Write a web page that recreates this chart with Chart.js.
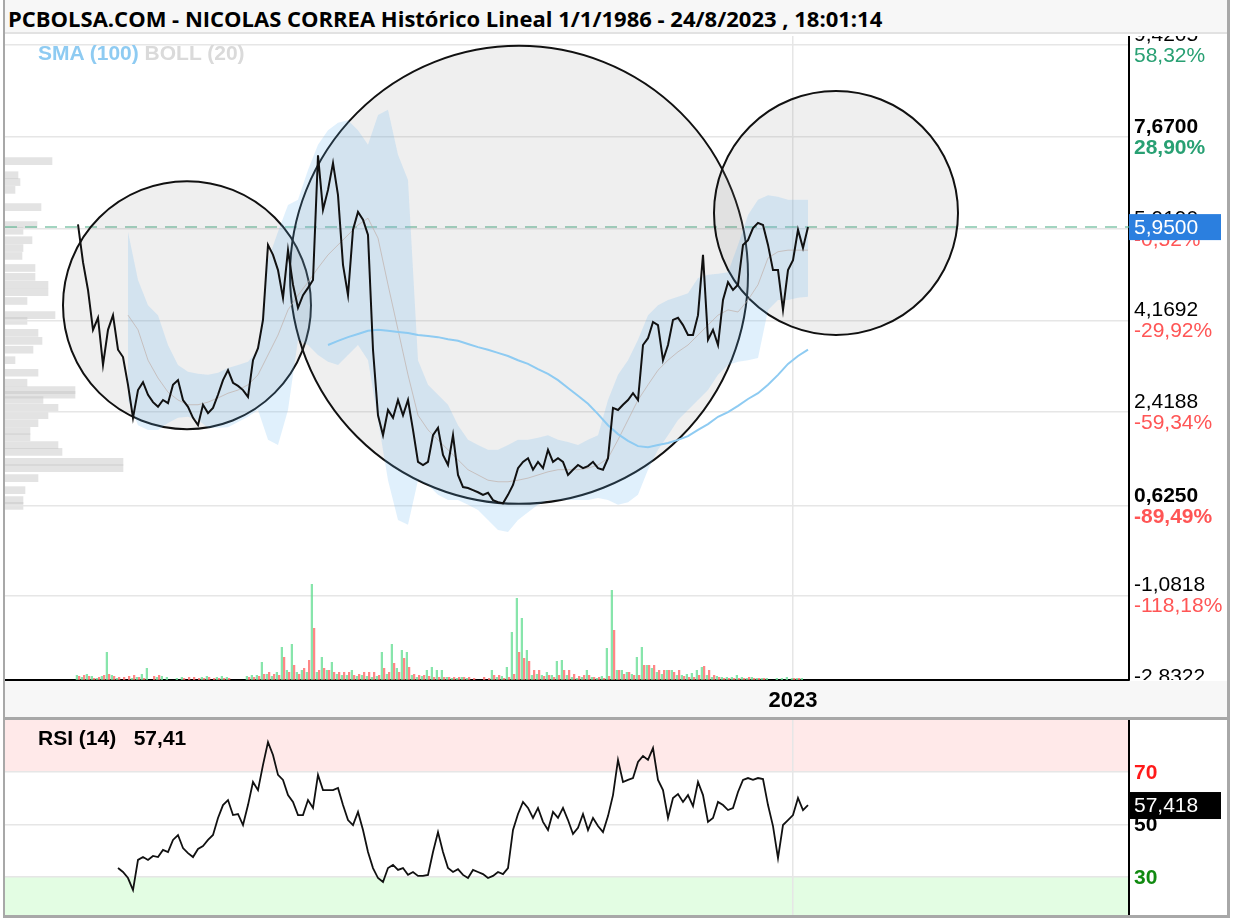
<!DOCTYPE html>
<html>
<head>
<meta charset="utf-8">
<script src="https://cdn.jsdelivr.net/npm/chart.js@4.4.0/dist/chart.umd.min.js"></script>
<style>
  body { margin: 0; background: #fff; font-family: "Liberation Sans", Arial, sans-serif; }
  .abs { position: absolute; }
  #title { left: 5px; top: 0; width: 1222px; height: 34px; background: #f7f7f7; border-bottom: 2px solid #e2e2e2;
           font: bold 22px "Open Sans", sans-serif; line-height: 36px; padding-left: 3px; box-sizing: border-box; color: #000; }
  #strip { left: 5px; top: 681px; width: 1222px; height: 36px; background: #f7f7f7; }
  #sep { left: 5px; top: 717px; width: 1222px; height: 3px; background: #a8a8a8; }
  #bl { left: 3px; top: 0; width: 2px; height: 918px; background: #a8a8a8; }
  #br { left: 1227px; top: 0; width: 3px; height: 918px; background: #a8a8a8; }
  #bb { left: 3px; top: 915px; width: 1227px; height: 3px; background: #a8a8a8; }
  #legend { left: 38px; top: 41px; font: bold 21px "Liberation Sans", Arial, sans-serif; }
  #rsiLabel { left: 38px; top: 726px; font: bold 21px "Liberation Sans", Arial, sans-serif; color: #000; white-space: pre; }
  canvas { position: absolute; }
</style>
</head>
<body>
<div id="strip" class="abs"></div>
<canvas id="profile" width="1124" height="644" style="left:5px;top:36px"></canvas>
<canvas id="main" width="1222" height="681" style="left:5px;top:36px"></canvas>
<canvas id="rsi" width="1222" height="195" style="left:5px;top:720px"></canvas>
<div id="title" class="abs"></div>
<div id="legend" class="abs"><span style="color:#8ecbf2">SMA (100)</span> <span style="color:#dadada">BOLL (20)</span></div>
<div id="rsiLabel" class="abs"></div>
<div id="sep" class="abs"></div>
<div id="bl" class="abs"></div>
<div id="br" class="abs"></div>
<div id="bb" class="abs"></div>
<script>
const titleText = 'PCBOLSA.COM - NICOLAS CORREA Histórico Lineal 1/1/1986 - 24/8/2023 , 18:01:14';

// quarterly closes from 1987.25
const priceStart = 1987.25;
const priceStep = 0.25;
const close = [
  6.00,5.28,4.75,3.99,4.22,3.32,3.99,4.27,3.61,3.47,
  2.94,2.31,2.84,2.99,2.75,2.61,2.52,2.65,2.59,2.94,
  3.03,2.65,2.52,2.31,2.17,2.56,2.40,2.50,2.75,3.03,
  3.22,2.98,2.92,2.84,2.71,3.41,3.64,4.18,5.61,5.42,
  5.13,4.60,5.51,4.85,4.41,4.65,4.79,4.94,7.32,6.28,
  6.66,7.17,6.56,5.23,4.65,5.90,6.24,6.09,5.80,3.61,
  2.36,1.98,2.46,2.31,2.65,2.36,2.65,2.08,1.47,1.41,
  1.47,1.98,2.12,1.60,1.41,1.98,1.22,0.99,0.97,0.93,
  0.89,0.84,0.88,0.74,0.70,0.68,0.84,1.03,1.35,1.47,
  1.54,1.32,1.47,1.35,1.70,1.47,1.54,1.47,1.22,1.32,
  1.41,1.35,1.39,1.47,1.35,1.32,1.54,2.50,2.46,2.56,
  2.65,2.78,2.65,3.70,3.83,4.14,4.08,3.41,3.70,4.18,
  4.22,4.08,3.89,3.89,4.27,5.42,3.80,3.99,3.70,4.56,
  4.90,4.75,4.85,5.61,5.70,5.93,6.03,5.99,5.61,5.13,
  5.13,4.37,5.13,5.32,5.90,5.55,5.95
];
const volUp = [
  5,3,6,4,2,4,28,5,2,0, 0,2,3,6,12,0,3,4,3,0,
  2,3,0,0,0,3,4,0,3,4, 3,0,0,0,4,5,5,18,6,4,
  8,33,10,36,8,10,8,96,8,23, 10,18,6,5,5,10,4,5,4,3,
  4,28,6,36,12,30,28,5,3,4, 10,13,10,10,3,2,2,3,2,0,
  0,0,0,10,3,4,13,48,82,62, 30,5,6,5,8,5,19,20,5,3,
  2,3,10,3,2,4,32,90,10,10, 8,6,23,33,15,12,8,6,10,10,
  5,5,6,7,10,13,5,3,4,3, 3,3,5,3,2,3,2,2,2,0,
  2,2,3,2,2,2,0
];
const volDown = [
  4,5,4,2,3,5,6,4,3,3, 4,5,3,2,0,4,5,0,0,0,
  0,2,3,3,2,2,3,2,2,2, 2,0,0,0,3,3,4,6,8,6,
  5,23,8,15,6,12,20,52,10,12, 10,8,8,8,8,5,6,8,8,8,
  5,12,8,17,8,22,13,6,5,5, 4,3,3,3,3,3,3,3,3,2,
  0,3,2,5,5,2,3,6,28,22, 19,10,10,4,5,3,5,10,10,6,
  4,5,5,3,3,2,4,50,10,6, 8,5,5,15,15,15,10,10,10,8,
  10,4,3,3,5,14,10,5,3,2, 2,2,2,2,3,2,2,2,0,0,
  0,0,0,2,2,0,0
];

// Bollinger (20), half-year readings from 1989.75
const bollStart = 1989.75;
const bollStep = 0.5;
const bollUpper = [
  5.86,4.94,4.46,4.27,3.70,3.32,3.19,3.15,3.13,3.17,
  3.26,3.32,3.38,3.61,5.32,5.86,6.37,6.47,7.04,7.52,
  7.80,7.94,7.99,7.80,7.52,8.09,8.19,7.33,6.85,3.41,
  2.94,2.75,2.56,2.17,1.89,1.79,1.70,1.70,1.79,1.89,
  1.89,1.93,1.98,1.89,1.85,1.79,1.89,1.98,2.65,3.13,
  3.41,3.80,4.27,4.46,4.56,4.62,4.69,4.98,5.04,5.06,
  5.09,5.61,6.18,6.47,6.56,6.53,6.47,6.47,6.47
];
const bollLower = [
  2.65,2.17,2.08,2.08,2.21,2.31,2.33,2.27,2.12,2.12,
  2.13,2.23,2.33,2.46,1.89,1.79,2.46,3.80,3.70,3.51,
  3.38,3.32,3.51,3.70,3.41,2.27,1.12,0.36,0.27,1.12,
  1.03,0.84,0.74,0.74,0.65,0.55,0.36,0.17,0.13,0.36,
  0.51,0.65,0.74,0.74,0.74,0.74,0.74,0.78,0.74,0.65,
  0.70,0.84,1.32,1.70,1.98,2.27,2.46,2.65,2.84,3.13,
  3.32,3.38,3.41,3.45,4.37,4.56,4.56,4.60,4.62
];
const bollMid = [
  4.27,3.99,3.41,3.07,2.80,2.65,2.56,2.56,2.61,2.69,
  2.78,2.84,2.94,3.13,3.51,3.89,4.37,4.65,4.90,5.17,
  5.42,5.61,5.80,5.99,6.12,5.74,4.85,3.99,3.13,2.36,
  2.08,1.89,1.70,1.51,1.32,1.22,1.12,1.09,1.09,1.12,
  1.16,1.22,1.28,1.32,1.32,1.32,1.35,1.41,1.54,1.89,
  2.27,2.65,2.94,3.22,3.41,3.57,3.70,3.89,4.08,4.27,
  4.37,4.33,4.56,4.85,5.36,5.48,5.51,5.51,5.51
];

// SMA (100), half-year readings from 1999.75
const smaStart = 1999.75;
const sma100 = [
  3.70,3.78,3.85,3.91,3.97,3.99,3.97,3.95,3.93,3.89,
  3.87,3.85,3.81,3.78,3.72,3.66,3.61,3.55,3.49,3.41,
  3.34,3.24,3.15,3.03,2.88,2.73,2.58,2.38,2.17,2.00,
  1.87,1.77,1.75,1.79,1.83,1.89,1.96,2.08,2.19,2.33,
  2.42,2.54,2.67,2.78,2.94,3.13,3.34,3.49,3.61
];

// RSI (14), quarterly from 1989.25
const rsiStart = 1989.25;
const rsi = [
  33.4,31.9,29.6,25.0,36.5,37.6,36.5,38.0,37.6,40.3,
  39.5,44.1,46.0,41.0,39.1,37.6,40.7,41.8,44.1,46.0,
  52.5,57.4,59.3,53.6,54.0,49.8,57.4,66.2,63.1,72.7,
  81.4,76.5,68.9,67.0,61.2,58.6,53.6,53.6,59.3,56.3,
  68.9,63.1,63.1,63.1,63.9,57.4,51.7,49.8,54.8,47.9,
  39.5,33.4,29.6,28.1,33.4,34.6,32.7,33.4,30.8,31.9,
  30.4,30.4,30.8,39.5,47.1,39.5,33.4,31.9,33.0,30.8,
  29.6,32.7,31.9,31.1,29.6,30.4,31.9,31.1,33.4,47.9,
  54.0,58.6,56.3,52.5,56.3,51.0,47.9,54.8,52.5,56.3,
  51.7,46.4,48.7,54.0,47.9,52.5,49.4,47.1,53.2,61.2,
  74.6,66.2,67.0,67.7,73.8,76.1,74.6,79.1,67.0,63.1,
  52.5,60.1,61.6,58.6,61.2,57.0,66.2,61.2,51.0,52.5,
  58.6,57.4,55.5,56.3,62.4,67.0,67.7,67.0,67.7,67.3,
  57.4,49.4,37.2,49.8,51.7,53.6,60.1,55.5,57.42
];

// volume by price (left side)
const profilePrice = [7.21,6.94,6.81,6.66,6.33,5.99,5.88,5.70,5.55,5.40,5.17,5.00,4.85,4.71,4.54,4.27,4.16,3.93,3.78,3.61,
  3.41,3.17,2.98,2.84,2.75,2.65,2.50,2.36,2.21,2.06,1.94,1.79,1.66,1.47,1.35,1.16,0.93,0.74,0.63];
const profileVol = [47,13,15,10,36,32,18,27,18,17,30,30,43,43,22,50,22,33,37,28,
  10,33,22,70,70,38,53,43,33,25,25,53,57,118,118,33,20,18,18];

// hand-drawn circles (centre date, centre price)
const circleDates = [1992.7, 2009.3, 2025.15];
const circlePrices = [4.46, 5.04, 6.22];

const priceTicks = [9.4205, 7.67, 5.919, 4.1692, 2.4188, 0.625, -1.0818, -2.8322];
const boldTicks = [7.67, 0.625];
const lastPrice = 5.95;
const rsiTicks = [30, 50, 70];
const lastRsi = 57.418;
const yearTicks = [2023];

// layout / style
const circleRadius = [124, 229, 122];
const xMin = 1983.6, xMax = 2039.8;
const yMin = -2.693, yMax = 9.597;
const axisFont = '"Liberation Sans", Arial, sans-serif';

document.getElementById('title').textContent = titleText;
document.getElementById('rsiLabel').textContent = 'RSI (14)   ' + (Math.trunc(lastRsi * 100) / 100).toFixed(2).replace('.', ',');

function series(start, step, values) {
  return values.map((v, i) => ({ x: start + i * step, y: v }));
}
const fmt = (v, d) => v.toFixed(d).replace('.', ',');
const pct = v => fmt(Math.trunc((v / lastPrice - 1) * 10000) / 100, 2) + '%';

const priceLabels = {
  id: 'priceLabels',
  beforeDatasetsDraw(chart) {
    const ctx = chart.ctx, a = chart.chartArea, py = chart.scales.y.getPixelForValue(lastPrice);
    ctx.save();
    ctx.strokeStyle = 'rgba(100,185,150,0.6)';
    ctx.lineWidth = 2;
    ctx.setLineDash([12, 8]);
    ctx.beginPath(); ctx.moveTo(a.left, py); ctx.lineTo(a.right, py); ctx.stroke();
    ctx.restore();
  },
  afterDraw(chart) {
    const ctx = chart.ctx, a = chart.chartArea, y = chart.scales.y, x0 = a.right + 5;
    ctx.save();
    ctx.beginPath(); ctx.rect(a.right, a.top, chart.width - a.right, a.bottom - a.top); ctx.clip();
    ctx.textBaseline = 'middle';
    priceTicks.forEach(v => {
      const py = y.getPixelForValue(v);
      const b = boldTicks.includes(v) ? 'bold ' : '';
      ctx.font = b + '21px ' + axisFont;
      ctx.fillStyle = '#000';
      ctx.fillText(fmt(v, 4), x0, py - 10);
      ctx.fillStyle = v >= lastPrice ? 'rgb(40,160,115)' : 'rgb(255,85,85)';
      ctx.fillText(pct(v), x0, py + 11);
    });
    const pl = y.getPixelForValue(lastPrice);
    ctx.fillStyle = '#2b7fdf';
    ctx.fillRect(a.right, pl - 13, 92, 26);
    ctx.fillStyle = '#fff';
    ctx.font = '21px ' + axisFont;
    ctx.fillText(fmt(lastPrice, 4), x0, pl + 1);
    ctx.restore();
  }
};

new Chart(document.getElementById('main'), {
  type: 'bar',
  data: {
    datasets: [
      { type: 'line', data: series(priceStart, priceStep, close), borderColor: '#111', borderWidth: 2,
        pointRadius: 0, order: 1 },
      { type: 'line', data: series(smaStart, bollStep, sma100), borderColor: '#8ecbf2', borderWidth: 2,
        pointRadius: 0, order: 2 },
      { type: 'line', data: series(bollStart, bollStep, bollMid), borderColor: 'rgba(190,172,165,0.65)', borderWidth: 1,
        pointRadius: 0, order: 3 },
      { type: 'line', data: series(bollStart, bollStep, bollUpper), borderWidth: 0, pointRadius: 0,
        fill: '+1', backgroundColor: 'rgba(100,180,240,0.2)', order: 5 },
      { type: 'line', data: series(bollStart, bollStep, bollLower), borderWidth: 0, pointRadius: 0, order: 4 },
      { type: 'bubble', data: circleDates.map((d, i) => ({ x: d, y: circlePrices[i] })),
        radius: ctx => circleRadius[ctx.dataIndex], backgroundColor: 'rgba(128,128,128,0.13)',
        borderColor: '#111', borderWidth: 2, order: 6 },
      { type: 'bar', data: series(priceStart, priceStep, volUp), yAxisID: 'yv',
        backgroundColor: 'rgba(105,222,150,0.8)', categoryPercentage: 0.9, barPercentage: 1, order: 7 },
      { type: 'bar', data: series(priceStart, priceStep, volDown), yAxisID: 'yv',
        backgroundColor: 'rgba(255,105,105,0.8)', categoryPercentage: 0.9, barPercentage: 1, order: 7 }
    ]
  },
  options: {
    responsive: false,
    animation: false,
    events: [],
    layout: { padding: 0, autoPadding: false },
    plugins: { legend: { display: false }, tooltip: { enabled: false } },
    scales: {
      x: {
        type: 'linear', min: xMin, max: xMax, offset: false,
        afterBuildTicks: s => { s.ticks = yearTicks.map(v => ({ value: v })); },
        afterFit: s => { s.height = 37; },
        grid: { color: '#e6e6e6', lineWidth: 1.5, drawTicks: false, offset: false },
        border: { color: '#000', width: 2 },
        ticks: { padding: 8, color: '#000', maxRotation: 0, autoSkip: false,
                 font: { size: 22, weight: 'bold', family: axisFont }, callback: v => String(v) }
      },
      y: {
        type: 'linear', position: 'right', min: yMin, max: yMax,
        afterBuildTicks: s => { s.ticks = priceTicks.filter(v => v >= yMin && v <= yMax).map(v => ({ value: v })); },
        afterFit: s => { s.width = 98; },
        grid: { color: '#e6e6e6', lineWidth: 1.5, drawTicks: false },
        border: { color: '#000', width: 2 },
        ticks: { display: false }
      },
      yv: { type: 'linear', display: false, min: 0, max: 644 }
    }
  },
  plugins: [priceLabels]
});

new Chart(document.getElementById('profile'), {
  type: 'bar',
  data: {
    datasets: [{ data: profilePrice.map((p, i) => ({ x: profileVol[i], y: p })),
      backgroundColor: 'rgba(200,200,200,0.5)', barThickness: 7 }]
  },
  options: {
    indexAxis: 'y', responsive: false, animation: false, events: [],
    layout: { padding: 0, autoPadding: false },
    plugins: { legend: { display: false }, tooltip: { enabled: false } },
    scales: {
      x: { type: 'linear', display: false, min: 0, max: 1124 },
      y: { type: 'linear', display: false, min: yMin, max: yMax, offset: false }
    }
  }
});

const rsiDecor = {
  id: 'rsiDecor',
  beforeDraw(chart) {
    const ctx = chart.ctx, a = chart.chartArea, y = chart.scales.y;
    const p70 = y.getPixelForValue(70), p30 = y.getPixelForValue(30);
    ctx.save();
    ctx.fillStyle = '#ffe9e9';
    ctx.fillRect(a.left, a.top, a.right - a.left, p70 - a.top);
    ctx.fillStyle = '#e3fde3';
    ctx.fillRect(a.left, p30, a.right - a.left, a.bottom - p30);
    ctx.restore();
  },
  afterDraw(chart) {
    const ctx = chart.ctx, a = chart.chartArea, y = chart.scales.y, x0 = a.right + 5;
    const colors = { 70: '#ff1a1a', 50: '#000', 30: '#118a11' };
    ctx.save();
    ctx.textBaseline = 'middle';
    ctx.font = 'bold 21px ' + axisFont;
    rsiTicks.forEach(v => {
      ctx.fillStyle = colors[v];
      ctx.fillText(String(v), x0, y.getPixelForValue(v) + 1);
    });
    const pr = y.getPixelForValue(lastRsi);
    ctx.fillStyle = '#000';
    ctx.fillRect(a.right, pr - 13, 92, 27);
    ctx.fillStyle = '#fff';
    ctx.font = '21px ' + axisFont;
    ctx.fillText(fmt(lastRsi, 3), x0, pr + 1);
    ctx.restore();
  }
};

new Chart(document.getElementById('rsi'), {
  type: 'line',
  data: { datasets: [{ data: series(rsiStart, priceStep, rsi), borderColor: '#111', borderWidth: 1.8, pointRadius: 0 }] },
  options: {
    responsive: false, animation: false, events: [],
    layout: { padding: 0, autoPadding: false },
    plugins: { legend: { display: false }, tooltip: { enabled: false } },
    scales: {
      x: {
        type: 'linear', min: xMin, max: xMax,
        afterBuildTicks: s => { s.ticks = yearTicks.map(v => ({ value: v })); },
        afterFit: s => { s.height = 0; },
        grid: { color: '#e6e6e6', lineWidth: 1.5, drawTicks: false },
        border: { display: false },
        ticks: { display: false }
      },
      y: {
        type: 'linear', position: 'right', min: 15.52, max: 89.81,
        afterBuildTicks: s => { s.ticks = rsiTicks.map(v => ({ value: v })); },
        afterFit: s => { s.width = 98; },
        grid: { color: '#e6e6e6', lineWidth: 1.5, drawTicks: false },
        border: { color: '#000', width: 2 },
        ticks: { display: false }
      }
    }
  },
  plugins: [rsiDecor]
});
</script>
</body>
</html>
